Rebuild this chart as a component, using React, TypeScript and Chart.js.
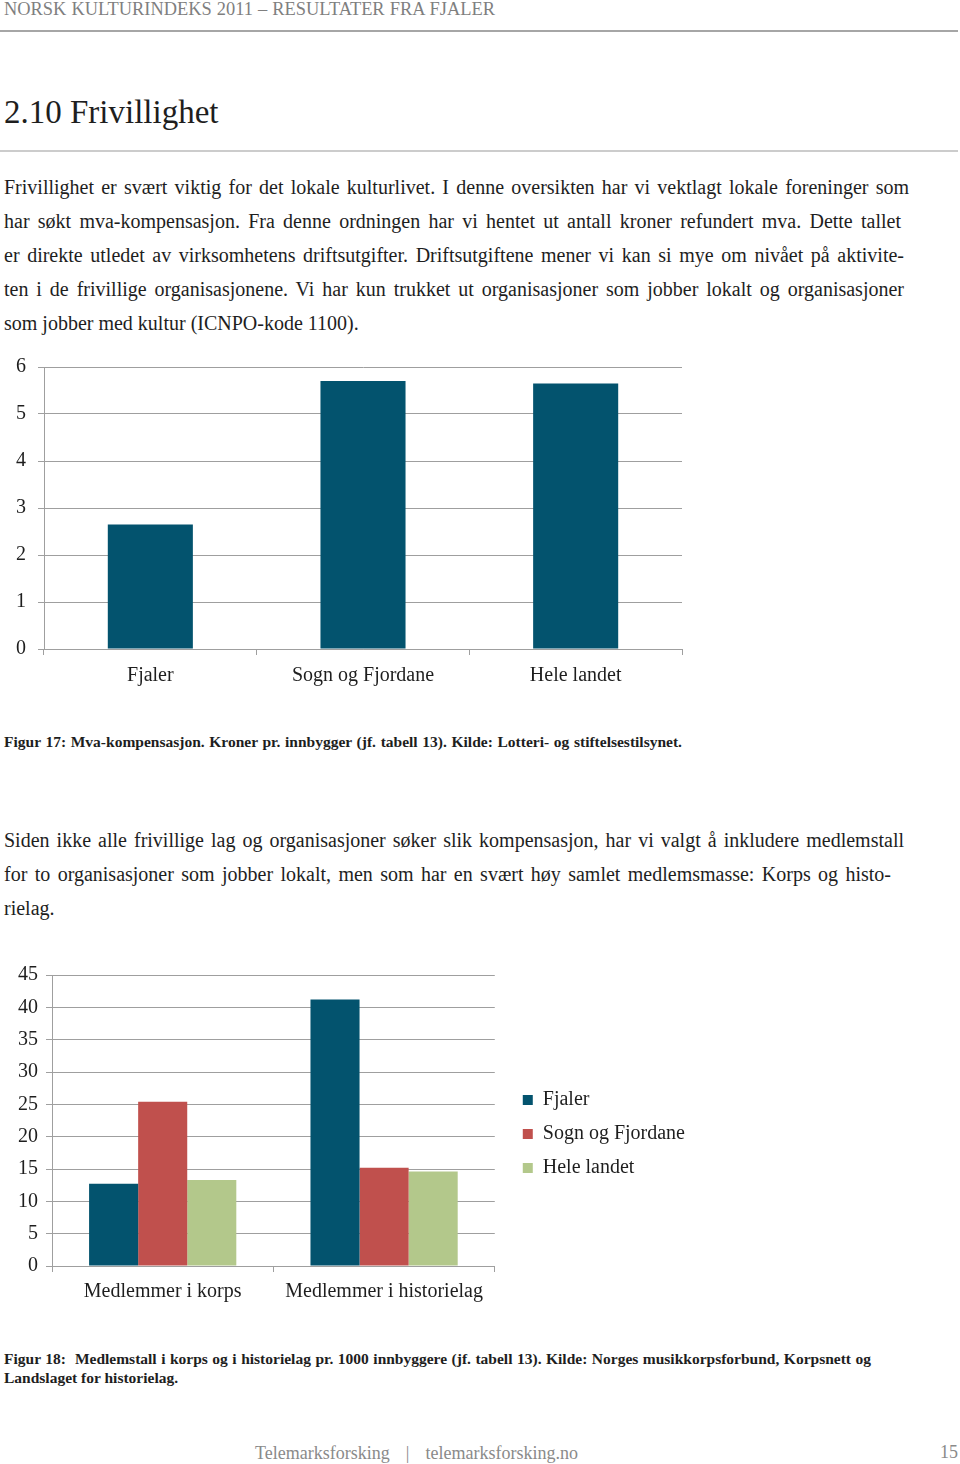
import React, { useEffect, useLayoutEffect, useRef } from 'react';
import { Chart, registerables } from 'chart.js';

Chart.register(...registerables);

const FONT = "'Liberation Serif', 'Times New Roman', serif";

// ---- Figure 17 data ----
const fig17Categories = ['Fjaler', 'Sogn og Fjordane', 'Hele landet'];
const fig17Values = [2.65, 5.7, 5.65];
const fig17AxisMax = 6;
const fig17AxisStep = 1;

// ---- Figure 18 data ----
const fig18Categories = ['Medlemmer i korps', 'Medlemmer i historielag'];
const fig18SeriesNames = ['Fjaler', 'Sogn og Fjordane', 'Hele landet'];
const fig18Fjaler = [12.7, 41.2];
const fig18Sogn = [25.4, 15.2];
const fig18Hele = [13.3, 14.6];
const fig18AxisMax = 45;
const fig18AxisStep = 5;

// ---- Page text ----
const headerText = 'NORSK KULTURINDEKS 2011 – RESULTATER FRA FJALER';
const titleText = '2.10 Frivillighet';
const para1 = [
  'Frivillighet er svært viktig for det lokale kulturlivet. I denne oversikten har vi vektlagt lokale foreninger som',
  'har søkt mva-kompensasjon. Fra denne ordningen har vi hentet ut antall kroner refundert mva. Dette tallet',
  'er direkte utledet av virksomhetens driftsutgifter. Driftsutgiftene mener vi kan si mye om nivået på aktivite-',
  'ten i de frivillige organisasjonene. Vi har kun trukket ut organisasjoner som jobber lokalt og organisasjoner',
  'som jobber med kultur (ICNPO-kode 1100).',
];
const caption17 = 'Figur 17: Mva-kompensasjon. Kroner pr. innbygger (jf. tabell 13). Kilde: Lotteri- og stiftelsestilsynet.';
const para2 = [
  'Siden ikke alle frivillige lag og organisasjoner søker slik kompensasjon, har vi valgt å inkludere medlemstall',
  'for to organisasjoner som jobber lokalt, men som har en svært høy samlet medlemsmasse: Korps og histo-',
  'rielag.',
];
const caption18 = [
  'Figur 18:  Medlemstall i korps og i historielag pr. 1000 innbyggere (jf. tabell 13). Kilde: Norges musikkorpsforbund, Korpsnett og',
  'Landslaget for historielag.',
];
const footerText = 'Telemarksforsking  |  telemarksforsking.no';
const pageNumber = '15';

// ---- Styles ----
const TEAL = '#03536e';
const RED = '#c0504d';
const GREEN = '#b3c88b';
const GRID = '#9f9f9f';
const TEXT = '#1e1e1e';

type LineProps = {
  x: number;
  base: number;
  size: number;
  text: string;
  width?: number;
  bold?: boolean;
  color?: string;
};

function TextLine({ x, base, size, text, width, bold, color }: LineProps) {
  const ref = useRef<HTMLSpanElement>(null);
  useLayoutEffect(() => {
    if (width == null) return;
    const measure = () => {
      const el = ref.current;
      if (!el) return;
      el.style.wordSpacing = '0px';
      const w = el.getBoundingClientRect().width;
      const n = (text.match(/ /g) || []).length;
      const v = n ? (width - w) / n : 0;
      el.style.wordSpacing = v + 'px';
    };
    measure();
    if ((document as any).fonts && (document as any).fonts.ready) {
      (document as any).fonts.ready.then(measure);
    }
  }, [text, width]);
  return (
    <span
      ref={ref}
      style={{
        position: 'absolute',
        left: x,
        top: base - 0.8375 * size,
        fontFamily: FONT,
        fontSize: size,
        lineHeight: `${size}px`,
        fontWeight: bold ? 700 : 400,
        color: color || TEXT,
        whiteSpace: 'pre',
      }}
    >
      {text}
    </span>
  );
}

function Fig17() {
  const ref = useRef<HTMLCanvasElement>(null);
  useEffect(() => {
    const chart = new Chart(ref.current as HTMLCanvasElement, {
      type: 'bar',
      data: {
        labels: fig17Categories,
        datasets: [
          {
            data: fig17Values,
            backgroundColor: TEAL,
            borderWidth: 0,
            barPercentage: 0.4,
            categoryPercentage: 1,
          },
        ],
      },
      options: {
        animation: false,
        responsive: false,
        maintainAspectRatio: false,
        devicePixelRatio: 1,
        layout: { padding: { top: 12, right: 18, left: 0, bottom: 0 } },
        plugins: { legend: { display: false }, tooltip: { enabled: false } },
        scales: {
          x: {
            grid: { display: true, drawOnChartArea: false, drawTicks: true, tickLength: 6, color: GRID, offset: true },
            border: { display: true, color: GRID },
            ticks: { color: TEXT, font: { family: FONT, size: 20 }, padding: 9, maxRotation: 0, autoSkip: false },
            afterFit: (s: any) => {
              s.height = 46;
              s.paddingLeft = 0;
              s.paddingRight = 0;
            },
          },
          y: {
            min: 0,
            max: fig17AxisMax,
            ticks: { stepSize: fig17AxisStep, color: TEXT, font: { family: FONT, size: 20 }, padding: 12 },
            grid: { color: GRID, tickLength: 6 },
            border: { display: true, color: GRID },
            afterFit: (s: any) => {
              s.width = 44;
              s.paddingTop = 0;
              s.paddingBottom = 0;
            },
          },
        },
      } as any,
    });
    return () => chart.destroy();
  }, []);
  return (
    <canvas
      ref={ref}
      width={700}
      height={340}
      style={{ position: 'absolute', left: 0, top: 355, width: 700, height: 340 }}
    />
  );
}

// moves the legend a little to the right and centres it a little higher
const legendNudge = {
  id: 'legendNudge',
  afterLayout(chart: any) {
    const lg = chart.legend;
    if (!lg) return;
    lg.left += 14;
    lg.right += 14;
    lg.bottom -= 13;
    lg.height -= 13;
  },
};

function Fig18() {
  const ref = useRef<HTMLCanvasElement>(null);
  useEffect(() => {
    const seriesValues = [fig18Fjaler, fig18Sogn, fig18Hele];
    const colors = [TEAL, RED, GREEN];
    const chart = new Chart(ref.current as HTMLCanvasElement, {
      type: 'bar',
      data: {
        labels: fig18Categories,
        datasets: fig18SeriesNames.map((name, i) => ({
          label: name,
          data: seriesValues[i],
          backgroundColor: colors[i],
          borderWidth: 0,
          barPercentage: 1,
          categoryPercentage: 0.665,
        })),
      },
      plugins: [legendNudge],
      options: {
        animation: false,
        responsive: false,
        maintainAspectRatio: false,
        devicePixelRatio: 1,
        layout: { padding: { top: 15, right: 19, left: 0, bottom: 0 } },
        plugins: {
          tooltip: { enabled: false },
          legend: {
            display: true,
            position: 'right',
            align: 'center',
            maxWidth: 200,
            labels: {
              boxWidth: 10,
              boxHeight: 10,
              padding: 14,
              color: TEXT,
              font: { family: FONT, size: 20 },
            },
          },
        },
        scales: {
          x: {
            grid: { display: true, drawOnChartArea: false, drawTicks: true, tickLength: 6, color: GRID, offset: true },
            border: { display: true, color: GRID },
            ticks: { color: TEXT, font: { family: FONT, size: 20 }, padding: 8, maxRotation: 0, autoSkip: false },
            afterFit: (s: any) => {
              s.height = 40;
              s.paddingLeft = 0;
              s.paddingRight = 0;
            },
          },
          y: {
            min: 0,
            max: fig18AxisMax,
            ticks: { stepSize: fig18AxisStep, color: TEXT, font: { family: FONT, size: 20 }, padding: 8 },
            grid: { color: GRID, tickLength: 6 },
            border: { display: true, color: GRID },
            afterFit: (s: any) => {
              s.width = 52;
              s.paddingTop = 0;
              s.paddingBottom = 0;
            },
          },
        },
      } as any,
    });
    return () => chart.destroy();
  }, []);
  return (
    <canvas
      ref={ref}
      width={700}
      height={346}
      style={{ position: 'absolute', left: 0, top: 960, width: 700, height: 346 }}
    />
  );
}

export default function App() {
  return (
    <div
      style={{
        position: 'absolute',
        left: 0,
        top: 0,
        width: 960,
        height: 1464,
        background: '#ffffff',
        overflow: 'hidden',
      }}
    >
      <TextLine x={4} base={15} size={18.4} text={headerText} width={491} color="#7f7f7f" />
      <div style={{ position: 'absolute', left: 0, top: 30, width: 958, height: 2, background: '#a6a6a6' }} />
      <TextLine x={4} base={124} size={33} text={titleText} />
      <div style={{ position: 'absolute', left: 0, top: 150, width: 958, height: 2, background: '#cccccc' }} />

      {para1.map((t, i) => (
        <TextLine
          key={'p1' + i}
          x={4}
          base={194 + 34 * i}
          size={20}
          text={t}
          width={i < 4 ? [905, 897, 900, 900][i] : undefined}
        />
      ))}

      <Fig17 />

      <TextLine x={4} base={747} size={15.5} text={caption17} width={678} bold />

      {para2.map((t, i) => (
        <TextLine
          key={'p2' + i}
          x={4}
          base={847 + 34 * i}
          size={20}
          text={t}
          width={i < 2 ? [900, 887][i] : undefined}
        />
      ))}

      <Fig18 />

      {caption18.map((t, i) => (
        <TextLine
          key={'c18' + i}
          x={4}
          base={1364 + 19 * i}
          size={15.5}
          text={t}
          width={i === 0 ? 867 : undefined}
          bold
        />
      ))}

      <TextLine x={255} base={1459} size={18} text={footerText} width={323} color="#8a8a8a" />
      <TextLine x={940} base={1458} size={18} text={pageNumber} color="#8a8a8a" />
    </div>
  );
}
